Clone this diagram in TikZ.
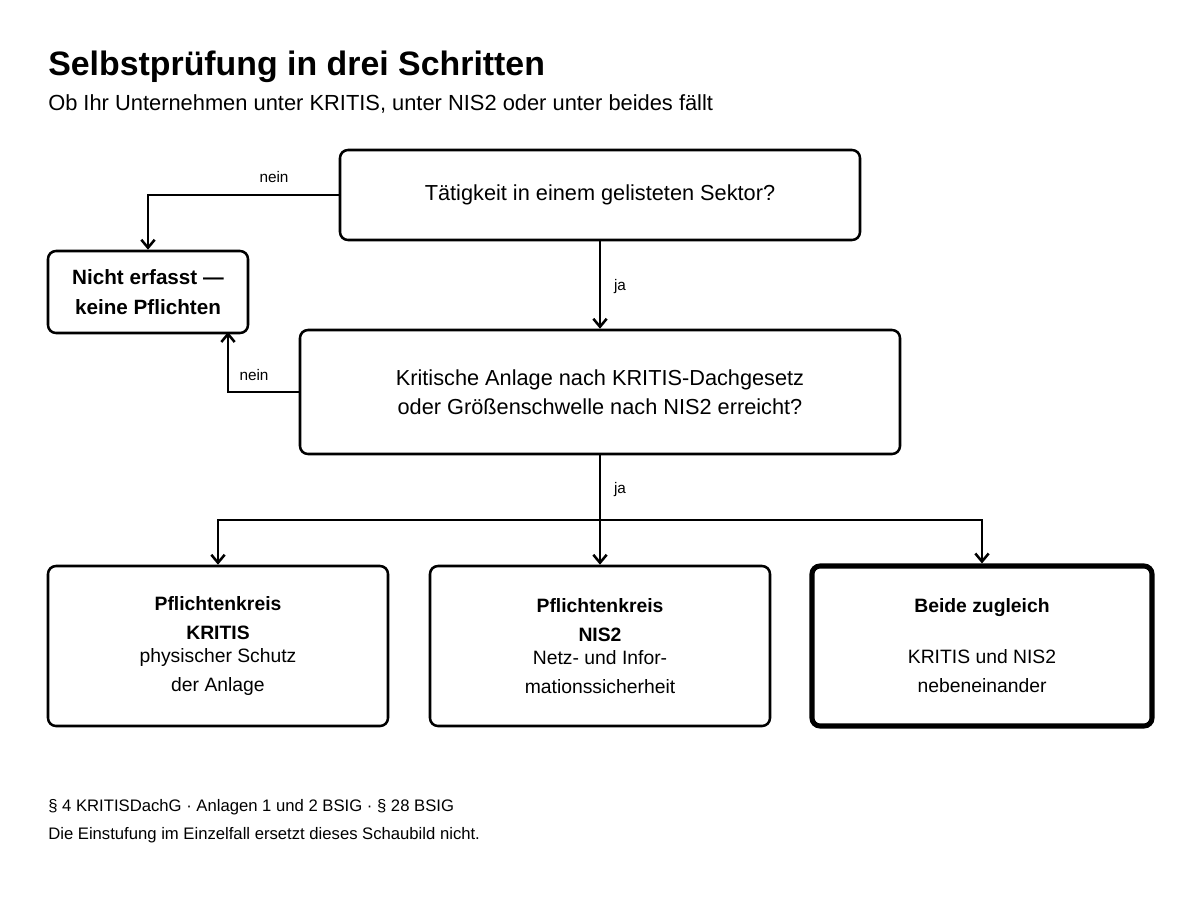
\documentclass[tikz,border=0pt]{standalone}
\usepackage{fontspec}
\setmainfont{Liberation Sans}
\usetikzlibrary{arrows.meta}
\begin{document}
\begin{tikzpicture}[x=0.75pt,y=-0.75pt,
  box/.style={draw,line width=1.9pt,rounded corners=6pt,align=center,font=\fontsize{14.5}{22}\selectfont},
  link/.style={line width=1.9pt,-{Straight Barb[length=6pt,width=10pt]}},
  lbl/.style={font=\fontsize{11.5}{13}\selectfont}]
\useasboundingbox (0,0) rectangle (1200,900);
% title
\node[anchor=base west,inner sep=0,font=\bfseries\fontsize{25.4}{28}\selectfont] (title) at (48,75) {Selbstprüfung in drei Schritten};
\node[anchor=base west,inner sep=0,font=\fontsize{16.4}{18}\selectfont] (sub) at (48,110) {Ob Ihr Unternehmen unter KRITIS, unter NIS2 oder unter beides fällt};
% boxes
\node[box,minimum width=390pt,minimum height=67.5pt,font=\fontsize{16.3}{22}\selectfont] (sektor) at (600,195) {Tätigkeit in einem gelisteten Sektor?};
\node[box,minimum width=150pt,minimum height=61.5pt,font=\bfseries\fontsize{15.5}{22}\selectfont] (nicht) at (148,292) {Nicht erfasst —\\keine Pflichten};
\node[box,minimum width=450pt,minimum height=93pt,font=\fontsize{16.3}{22}\selectfont] (anlage) at (600,392) {Kritische Anlage nach KRITIS-Dachgesetz\\oder Größenschwelle nach NIS2 erreicht?};
\node[box,minimum width=255pt,minimum height=120pt] (kritis) at (218,646) {\textbf{Pflichtenkreis}\\\textbf{KRITIS}\\[-5pt]physischer Schutz\\der Anlage};
\node[box,minimum width=255pt,minimum height=120pt] (nis) at (600,646) {\textbf{Pflichtenkreis}\\\textbf{NIS2}\\[-5pt]Netz- und Infor-\\mationssicherheit};
\node[box,line width=3.8pt,minimum width=255pt,minimum height=120pt] (beide) at (982,646) {\textbf{Beide zugleich}\\[16pt]KRITIS und NIS2\\nebeneinander};
% connectors
\draw[link] (sektor.west) -| (nicht.north);
\node[lbl] (nein1) at (274,177) {nein};
\draw[link] (sektor.south) -- (anlage.north);
\node[lbl] (ja1) at (620,287) {ja};
\draw[link] (anlage.west) -| (228,332);
\node[lbl] (nein2) at (254,375) {nein};
\coordinate (split) at (600,520);
\draw[line width=1.9pt] (anlage.south) -- (split);
\draw[link] (split) -- (nis.north);
\draw[link] (split) -| (kritis.north);
\draw[link] (split) -| (beide.north);
\node[lbl] (ja2) at (620,490) {ja};
% footnote
\node[anchor=base west,inner sep=0,font=\fontsize{12.5}{14}\selectfont] (fn1) at (48,811) {§ 4 KRITISDachG · Anlagen 1 und 2 BSIG · § 28 BSIG};
\node[anchor=base west,inner sep=0,font=\fontsize{12.5}{14}\selectfont] (fn2) at (48,839) {Die Einstufung im Einzelfall ersetzt dieses Schaubild nicht.};
\end{tikzpicture}
\end{document}
